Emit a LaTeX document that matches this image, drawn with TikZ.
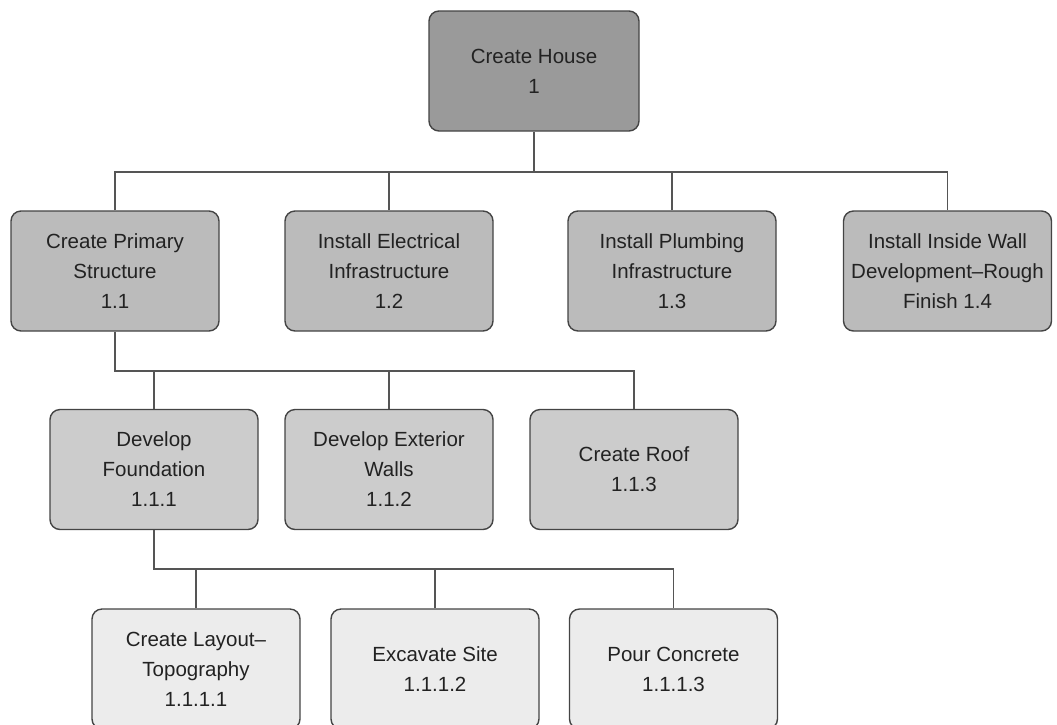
\documentclass[tikz,border=0pt]{standalone}
\usepackage{fontspec}
\setmainfont{Liberation Sans}
\definecolor{topfill}{HTML}{9A9A9A}
\definecolor{lvlone}{HTML}{BBBBBB}
\definecolor{lvltwo}{HTML}{CCCCCC}
\definecolor{lvlthree}{HTML}{ECECEC}
\definecolor{edge}{HTML}{444444}
\definecolor{wire}{HTML}{555555}
\definecolor{ink}{HTML}{222222}
\begin{document}
\begin{tikzpicture}[x=1pt,y=-1pt,
  wbs/.style={draw=edge, line width=1.4pt, rounded corners=10pt,
    minimum width=208pt, minimum height=120pt, align=center,
    text=ink, inner sep=0pt, font=\fontsize{20.5}{30}\selectfont},
  conn/.style={draw=wire, line width=1.2pt}]
\useasboundingbox (0,0) rectangle (1057,724);

\node[wbs, fill=topfill, minimum width=210pt] (h) at (534,71) {Create House\\1};

\node[wbs, fill=lvlone] (a) at (115,271) {Create Primary\\Structure\\1.1};
\node[wbs, fill=lvlone] (b) at (389,271) {Install Electrical\\Infrastructure\\1.2};
\node[wbs, fill=lvlone] (c) at (672,271) {Install Plumbing\\Infrastructure\\1.3};
\node[wbs, fill=lvlone] (d) at (947.5,271) {Install Inside Wall\\Development–Rough\\Finish 1.4};

\node[wbs, fill=lvltwo] (e) at (154,469.5) {Develop\\Foundation\\1.1.1};
\node[wbs, fill=lvltwo] (f) at (389,469.5) {Develop Exterior\\Walls\\1.1.2};
\node[wbs, fill=lvltwo] (g) at (634,469.5) {Create Roof\\1.1.3};

\node[wbs, fill=lvlthree] (i) at (196,669) {Create Layout–\\Topography\\1.1.1.1};
\node[wbs, fill=lvlthree] (j) at (435,669) {Excavate Site\\1.1.1.2};
\node[wbs, fill=lvlthree] (k) at (673.5,669) {Pour Concrete\\1.1.1.3};

\coordinate (busone) at (534,172);
\coordinate (bustwo) at (115,371);
\coordinate (busthree) at (154,569);

\draw[conn] (h.south) -- (busone);
\draw[conn] (a.north) |- (d.north |- busone) -- (d.north);
\draw[conn] (b.north) -- (b.north |- busone);
\draw[conn] (c.north) -- (c.north |- busone);

\draw[conn] (a.south) |- (g.north |- bustwo) -- (g.north);
\draw[conn] (e.north) -- (e.north |- bustwo);
\draw[conn] (f.north) -- (f.north |- bustwo);

\draw[conn] (e.south) |- (k.north |- busthree) -- (k.north);
\draw[conn] (i.north) -- (i.north |- busthree);
\draw[conn] (j.north) -- (j.north |- busthree);
\end{tikzpicture}
\end{document}
